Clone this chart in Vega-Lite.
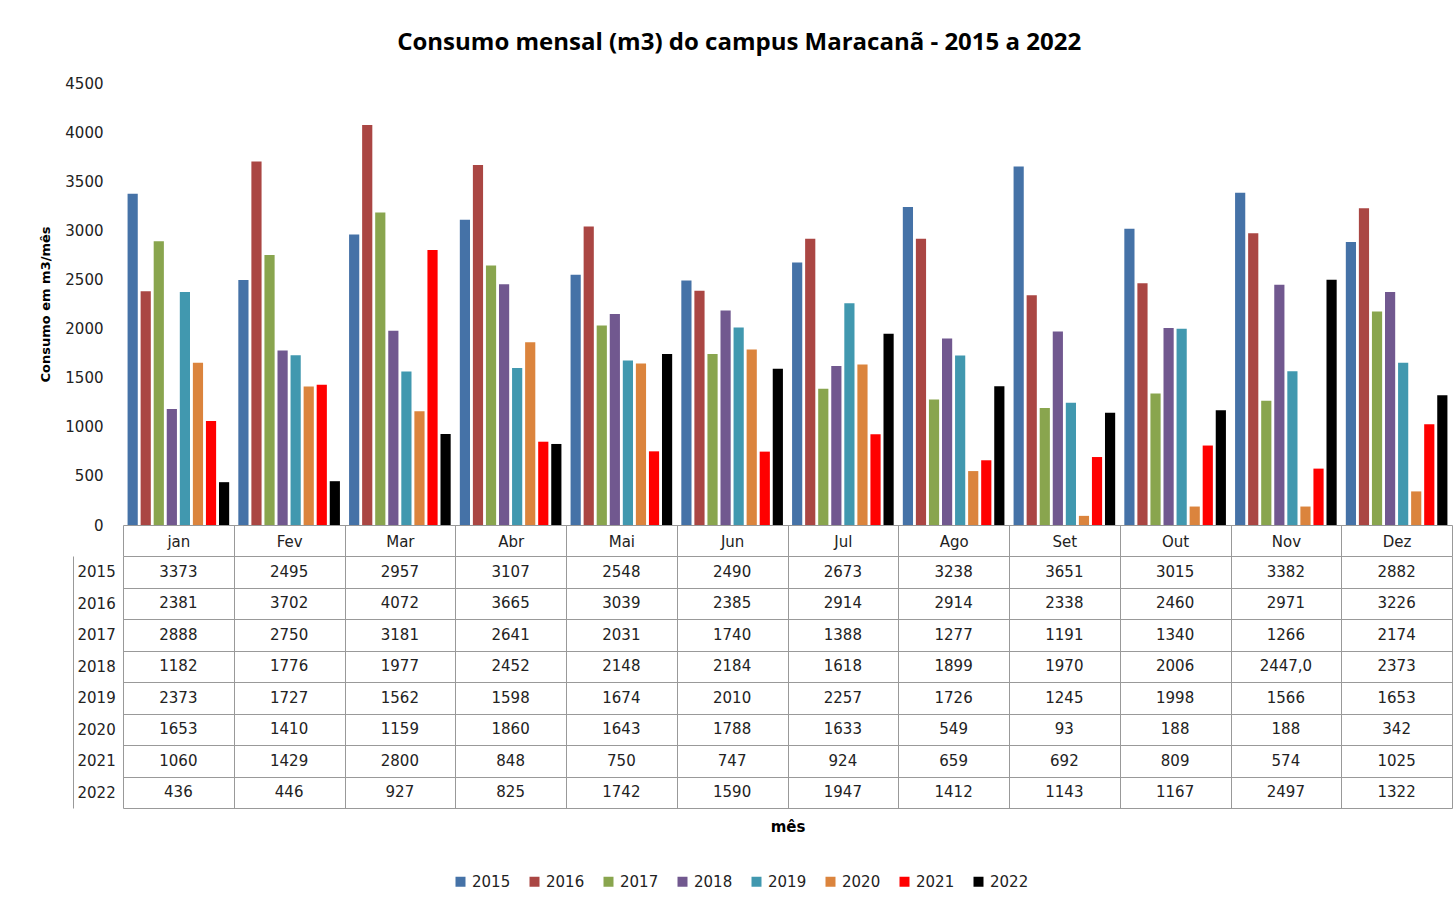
{
  "$schema": "https://vega.github.io/schema/vega-lite/v6.json",
  "padding": {"left": 39, "top": 31, "right": 0, "bottom": 0},
  "background": "white",
  "bounds": "flush",
  "spacing": 31,
  "title": {"text": "Consumo mensal (m3) do campus Maracanã - 2015 a 2022", "font": "Open Sans", "fontSize": 24, "fontWeight": "bold", "color": "#000000", "anchor": "middle", "offset": 21, "dx": -7},
  "config": {
    "font": "DejaVu Sans",
    "view": {"stroke": null}
  },
  "datasets": {
    "consumo": [
      {"m":"jan","y":"2015","v":3373,"t":"3373"},{"m":"Fev","y":"2015","v":2495,"t":"2495"},{"m":"Mar","y":"2015","v":2957,"t":"2957"},{"m":"Abr","y":"2015","v":3107,"t":"3107"},{"m":"Mai","y":"2015","v":2548,"t":"2548"},{"m":"Jun","y":"2015","v":2490,"t":"2490"},{"m":"Jul","y":"2015","v":2673,"t":"2673"},{"m":"Ago","y":"2015","v":3238,"t":"3238"},{"m":"Set","y":"2015","v":3651,"t":"3651"},{"m":"Out","y":"2015","v":3015,"t":"3015"},{"m":"Nov","y":"2015","v":3382,"t":"3382"},{"m":"Dez","y":"2015","v":2882,"t":"2882"},
      {"m":"jan","y":"2016","v":2381,"t":"2381"},{"m":"Fev","y":"2016","v":3702,"t":"3702"},{"m":"Mar","y":"2016","v":4072,"t":"4072"},{"m":"Abr","y":"2016","v":3665,"t":"3665"},{"m":"Mai","y":"2016","v":3039,"t":"3039"},{"m":"Jun","y":"2016","v":2385,"t":"2385"},{"m":"Jul","y":"2016","v":2914,"t":"2914"},{"m":"Ago","y":"2016","v":2914,"t":"2914"},{"m":"Set","y":"2016","v":2338,"t":"2338"},{"m":"Out","y":"2016","v":2460,"t":"2460"},{"m":"Nov","y":"2016","v":2971,"t":"2971"},{"m":"Dez","y":"2016","v":3226,"t":"3226"},
      {"m":"jan","y":"2017","v":2888,"t":"2888"},{"m":"Fev","y":"2017","v":2750,"t":"2750"},{"m":"Mar","y":"2017","v":3181,"t":"3181"},{"m":"Abr","y":"2017","v":2641,"t":"2641"},{"m":"Mai","y":"2017","v":2031,"t":"2031"},{"m":"Jun","y":"2017","v":1740,"t":"1740"},{"m":"Jul","y":"2017","v":1388,"t":"1388"},{"m":"Ago","y":"2017","v":1277,"t":"1277"},{"m":"Set","y":"2017","v":1191,"t":"1191"},{"m":"Out","y":"2017","v":1340,"t":"1340"},{"m":"Nov","y":"2017","v":1266,"t":"1266"},{"m":"Dez","y":"2017","v":2174,"t":"2174"},
      {"m":"jan","y":"2018","v":1182,"t":"1182"},{"m":"Fev","y":"2018","v":1776,"t":"1776"},{"m":"Mar","y":"2018","v":1977,"t":"1977"},{"m":"Abr","y":"2018","v":2452,"t":"2452"},{"m":"Mai","y":"2018","v":2148,"t":"2148"},{"m":"Jun","y":"2018","v":2184,"t":"2184"},{"m":"Jul","y":"2018","v":1618,"t":"1618"},{"m":"Ago","y":"2018","v":1899,"t":"1899"},{"m":"Set","y":"2018","v":1970,"t":"1970"},{"m":"Out","y":"2018","v":2006,"t":"2006"},{"m":"Nov","y":"2018","v":2447,"t":"2447,0"},{"m":"Dez","y":"2018","v":2373,"t":"2373"},
      {"m":"jan","y":"2019","v":2373,"t":"2373"},{"m":"Fev","y":"2019","v":1727,"t":"1727"},{"m":"Mar","y":"2019","v":1562,"t":"1562"},{"m":"Abr","y":"2019","v":1598,"t":"1598"},{"m":"Mai","y":"2019","v":1674,"t":"1674"},{"m":"Jun","y":"2019","v":2010,"t":"2010"},{"m":"Jul","y":"2019","v":2257,"t":"2257"},{"m":"Ago","y":"2019","v":1726,"t":"1726"},{"m":"Set","y":"2019","v":1245,"t":"1245"},{"m":"Out","y":"2019","v":1998,"t":"1998"},{"m":"Nov","y":"2019","v":1566,"t":"1566"},{"m":"Dez","y":"2019","v":1653,"t":"1653"},
      {"m":"jan","y":"2020","v":1653,"t":"1653"},{"m":"Fev","y":"2020","v":1410,"t":"1410"},{"m":"Mar","y":"2020","v":1159,"t":"1159"},{"m":"Abr","y":"2020","v":1860,"t":"1860"},{"m":"Mai","y":"2020","v":1643,"t":"1643"},{"m":"Jun","y":"2020","v":1788,"t":"1788"},{"m":"Jul","y":"2020","v":1633,"t":"1633"},{"m":"Ago","y":"2020","v":549,"t":"549"},{"m":"Set","y":"2020","v":93,"t":"93"},{"m":"Out","y":"2020","v":188,"t":"188"},{"m":"Nov","y":"2020","v":188,"t":"188"},{"m":"Dez","y":"2020","v":342,"t":"342"},
      {"m":"jan","y":"2021","v":1060,"t":"1060"},{"m":"Fev","y":"2021","v":1429,"t":"1429"},{"m":"Mar","y":"2021","v":2800,"t":"2800"},{"m":"Abr","y":"2021","v":848,"t":"848"},{"m":"Mai","y":"2021","v":750,"t":"750"},{"m":"Jun","y":"2021","v":747,"t":"747"},{"m":"Jul","y":"2021","v":924,"t":"924"},{"m":"Ago","y":"2021","v":659,"t":"659"},{"m":"Set","y":"2021","v":692,"t":"692"},{"m":"Out","y":"2021","v":809,"t":"809"},{"m":"Nov","y":"2021","v":574,"t":"574"},{"m":"Dez","y":"2021","v":1025,"t":"1025"},
      {"m":"jan","y":"2022","v":436,"t":"436"},{"m":"Fev","y":"2022","v":446,"t":"446"},{"m":"Mar","y":"2022","v":927,"t":"927"},{"m":"Abr","y":"2022","v":825,"t":"825"},{"m":"Mai","y":"2022","v":1742,"t":"1742"},{"m":"Jun","y":"2022","v":1590,"t":"1590"},{"m":"Jul","y":"2022","v":1947,"t":"1947"},{"m":"Ago","y":"2022","v":1412,"t":"1412"},{"m":"Set","y":"2022","v":1143,"t":"1143"},{"m":"Out","y":"2022","v":1167,"t":"1167"},{"m":"Nov","y":"2022","v":2497,"t":"2497"},{"m":"Dez","y":"2022","v":1322,"t":"1322"}
    ]
  },
  "vconcat": [
    {
      "width": 1379,
      "height": 442,
      "data": {"name": "consumo"},
      "mark": {"type": "bar"},
      "encoding": {
        "x": {
          "field": "m", "type": "nominal",
          "sort": ["jan","Fev","Mar","Abr","Mai","Jun","Jul","Ago","Set","Out","Nov","Dez"],
          "scale": {"range": [50, 1379], "paddingInner": 0, "paddingOuter": 0},
          "axis": {"title": null, "labels": false, "ticks": false, "domain": true, "domainColor": "#999999", "domainWidth": 1, "grid": false}
        },
        "xOffset": {
          "field": "y", "type": "nominal",
          "scale": {"paddingInner": 0.22, "paddingOuter": 0.35}
        },
        "y": {
          "field": "v", "type": "quantitative",
          "scale": {"domain": [0, 4500], "nice": false},
          "axis": {
            "title": "Consumo em m3/mês", "titleFontSize": 13, "titleFontWeight": "bold", "titleColor": "#000000", "titlePadding": 12,
            "values": [0,500,1000,1500,2000,2500,3000,3500,4000,4500],
            "format": "d",
            "labelFontSize": 15, "labelColor": "#222222", "labelPadding": 20,
            "offset": -50, "domain": false, "ticks": false, "grid": false
          }
        },
        "color": {
          "field": "y", "type": "nominal",
          "scale": {
            "domain": ["2015","2016","2017","2018","2019","2020","2021","2022"],
            "range": ["#4572A7","#AA4643","#89A54E","#71588F","#4198AF","#DB843D","#FF0000","#000000"]
          },
          "legend": {
            "title": null, "orient": "none", "direction": "horizontal", "legendX": 380, "legendY": 791,
            "symbolType": "square", "symbolSize": 100, "symbolStrokeWidth": 0,
            "labelFontSize": 15, "labelColor": "#222222", "columnPadding": 16, "labelOffset": 4
          }
        }
      }
    },
    {
      "width": 1379,
      "height": 252,
      "data": {"name": "consumo"},
      "resolve": {"axis": {"x": "independent"}},
      "layer": [
        {
          "mark": {"type": "text", "fontSize": 15, "color": "#222222"},
          "encoding": {
            "x": {
              "field": "m", "type": "nominal",
              "sort": ["jan","Fev","Mar","Abr","Mai","Jun","Jul","Ago","Set","Out","Nov","Dez"],
              "scale": {"range": [50, 1379], "paddingInner": 0, "paddingOuter": 0},
              "axis": {
                "orient": "top", "title": null, "domain": false,
                "ticks": true, "tickBand": "extent", "tickSize": 31, "tickColor": "#999999",
                "grid": true, "gridColor": "#999999", "gridOpacity": 1,
                "labelFontSize": 15, "labelColor": "#222222", "labelPadding": -16, "labelBaseline": "middle", "labelAngle": 0
              }
            },
            "y": {
              "field": "y", "type": "nominal",
              "scale": {"domain": ["2015","2016","2017","2018","2019","2020","2021","2022"], "paddingInner": 0, "paddingOuter": 0},
              "axis": {
                "title": null, "domain": true, "domainColor": "#999999", "ticks": false,
                "tickBand": "extent", "grid": true, "gridColor": "#999999", "gridOpacity": 1,
                "labelAlign": "left", "labelPadding": -4, "labelBaseline": "middle",
                "labelFontSize": 15, "labelColor": "#222222"
              }
            },
            "text": {"field": "t", "type": "nominal"}
          }
        },
        {
          "mark": {"type": "text", "opacity": 0},
          "encoding": {
            "x": {
              "field": "m", "type": "nominal",
              "sort": ["jan","Fev","Mar","Abr","Mai","Jun","Jul","Ago","Set","Out","Nov","Dez"],
              "axis": {
                "orient": "bottom", "title": "mês", "titleFontSize": 15, "titleFontWeight": "bold", "titleColor": "#000000",
                "titlePadding": 11, "labels": false, "ticks": false, "domain": false, "grid": false
              }
            },
            "y": {"field": "y", "type": "nominal"},
            "text": {"field": "t", "type": "nominal"}
          }
        }
      ]
    }
  ]
}
